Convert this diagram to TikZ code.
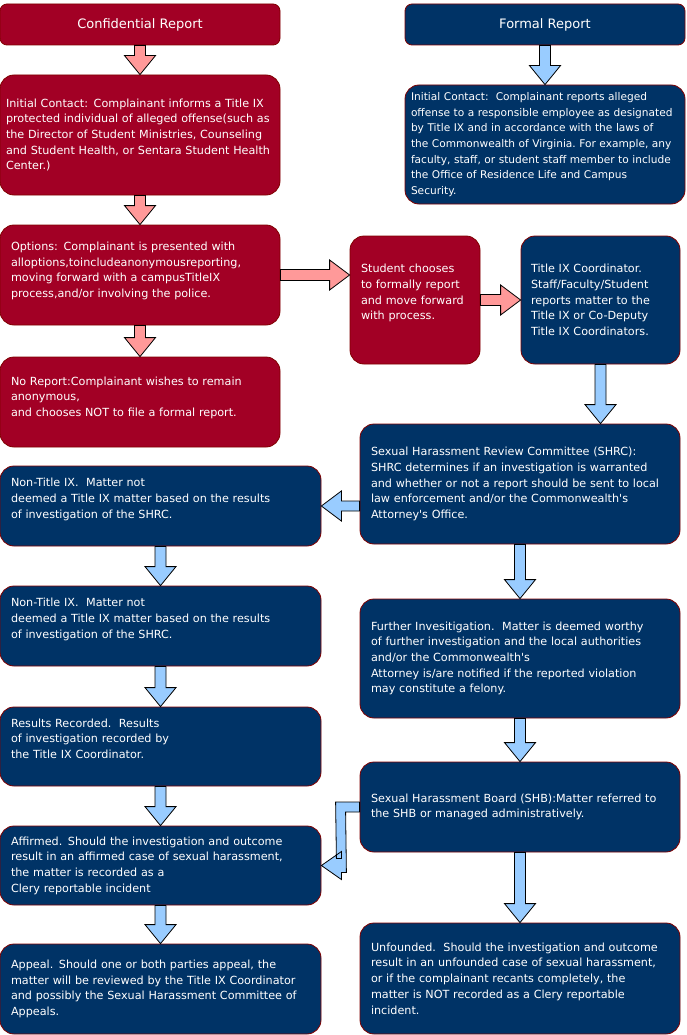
\documentclass[tikz,border=0pt]{standalone}
\usepackage{fontspec}
\setmainfont{DejaVu Sans}
\usetikzlibrary{calc}
\definecolor{crimson}{HTML}{A20025}
\definecolor{navy}{HTML}{003366}
\definecolor{boxline}{HTML}{800000}
\definecolor{pinkfill}{HTML}{FF9999}
\definecolor{skyfill}{HTML}{99CCFF}
\hyphenpenalty=10000
\exhyphenpenalty=10000
\begin{document}
\begin{tikzpicture}[x=1pt, y=-1pt,
    box/.style={draw=boxline, line width=0.8pt, rounded corners=14pt, text=white, align=left,
      inner xsep=11pt, inner ysep=2pt, font=\fontsize{11.2}{15.7}\selectfont},
    redbox/.style={box, fill=crimson},
    bluebox/.style={box, fill=navy},
    title/.style={align=center, rounded corners=7pt, font=\fontsize{13}{16}\selectfont},
    redarrow/.style={draw=black, fill=pinkfill, line width=0.8pt},
    bluearrow/.style={draw=black, fill=skyfill, line width=0.8pt},
    blockdown/.style={to path={
      ($(\tikztostart.south)+(-5.5,0)$) -- ($(\tikztostart.south)+(5.5,0)$)
      -- ($(\tikztostart.south |- \tikztotarget.north)+(5.5,-19)$)
      -- ($(\tikztostart.south |- \tikztotarget.north)+(15.5,-19)$)
      -- (\tikztostart.south |- \tikztotarget.north)
      -- ($(\tikztostart.south |- \tikztotarget.north)+(-15.5,-19)$)
      -- ($(\tikztostart.south |- \tikztotarget.north)+(-5.5,-19)$) -- cycle}},
    blockright/.style={to path={
      ($(\tikztostart.east)+(0,-5.5)$)
      -- ($(\tikztotarget.west |- \tikztostart.east)+(-20,-5.5)$)
      -- ($(\tikztotarget.west |- \tikztostart.east)+(-20,-15)$)
      -- (\tikztotarget.west |- \tikztostart.east)
      -- ($(\tikztotarget.west |- \tikztostart.east)+(-20,15)$)
      -- ($(\tikztotarget.west |- \tikztostart.east)+(-20,5.5)$)
      -- ($(\tikztostart.east)+(0,5.5)$) -- cycle}},
    blockleft/.style={to path={
      ($(\tikztostart.west |- \tikztotarget.east)+(0,-5)$)
      -- ($(\tikztotarget.east)+(20,-5)$)
      -- ($(\tikztotarget.east)+(20,-15)$)
      -- (\tikztotarget.east)
      -- ($(\tikztotarget.east)+(20,15)$)
      -- ($(\tikztotarget.east)+(20,5)$)
      -- ($(\tikztostart.west |- \tikztotarget.east)+(0,5)$) -- cycle}}]

    \useasboundingbox (0,0) rectangle (686,1035);

    % confidential side
    \node[redbox, title, minimum width=280pt, minimum height=41pt] (conf) at (140,24.5) {Confidential Report};
    \node[redbox, minimum width=280pt, minimum height=120pt, text width=268pt, inner xsep=6pt] (icconf) at (140,135)
      {Initial Contact: Complainant informs a Title IX\\ protected individual of alleged offense(such as\\ the Director of Student Ministries, Counseling\\ and Student Health, or Sentara Student Health\\ Center.)};
    \node[redbox, minimum width=280pt, minimum height=100pt, text width=258pt] (options) at (140,275)
      {Options: Complainant is presented with\\ alloptions,toincludeanonymousreporting,\\ moving forward with a campusTitleIX\\ process,and/or involving the police.\\[-5pt]\mbox{}};
    \node[redbox, minimum width=280pt, minimum height=90pt, text width=258pt] (noreport) at (140,402)
      {No Report:Complainant wishes to remain\\ anonymous,\\ and chooses NOT to file a formal report.\\[-5pt]\mbox{}};
    \node[redbox, minimum width=130pt, minimum height=128pt, text width=108pt] (student) at (415,300)
      {Student chooses\\ to formally report\\ and move forward\\ with process.\\\mbox{}};

    % formal side
    \node[bluebox, title, minimum width=280pt, minimum height=41pt] (formal) at (545,24.5) {Formal Report};
    \node[bluebox, minimum width=280pt, minimum height=119pt, text width=274pt, inner xsep=3pt,
      font=\fontsize{10.6}{15.7}\selectfont] (icformal) at (545,144.5)
      {\hspace*{3pt}Initial Contact:\ \ Complainant reports alleged\\ \hspace*{3pt}offense to a responsible employee as designated\\ \hspace*{3pt}by Title IX and in accordance with the laws of\\ \hspace*{3pt}the Commonwealth of Virginia.\ For example, any\\ \hspace*{3pt}faculty, staff, or student staff member to include\\ \hspace*{3pt}the Office of Residence Life and Campus\\ \hspace*{3pt}Security.};
    \node[bluebox, minimum width=159pt, minimum height=128pt, text width=139pt, inner xsep=10pt] (coord) at (600.5,300)
      {Title IX Coordinator.\\ Staff/Faculty/Student\\ reports matter to the\\ Title IX or Co-Deputy\\ Title IX Coordinators.};
    \node[bluebox, minimum width=320pt, minimum height=120pt, text width=298pt] (shrc) at (520,484)
      {Sexual Harassment Review Committee (SHRC):\\ SHRC determines if an investigation is warranted\\ and whether or not a report should be sent to local\\ law enforcement and/or the Commonwealth\textquotesingle s\\ Attorney\textquotesingle s Office.};
    \node[bluebox, minimum width=320pt, minimum height=119pt, text width=298pt] (further) at (520,658.5)
      {Further Invesitigation.\ \ Matter is deemed worthy\\ of further investigation and the local authorities\\ and/or the Commonwealth\textquotesingle s\\ Attorney is/are notified if the reported violation\\ may constitute a felony.};
    \node[bluebox, minimum width=320pt, minimum height=90pt, text width=298pt] (shb) at (520,807)
      {Sexual Harassment Board (SHB):Matter referred to\\ the SHB or managed administratively.};
    \node[bluebox, minimum width=320pt, minimum height=111pt, text width=298pt] (unfounded) at (520,978.5)
      {Unfounded.\ \ Should the investigation and outcome\\ result in an unfounded case of sexual harassment,\\ or if the complainant recants completely, the\\ matter is NOT recorded as a Clery reportable\\ incident.};

    % left column results
    \node[bluebox, minimum width=321pt, minimum height=80pt, text width=299pt] (nontitlea) at (160.5,506)
      {Non-Title IX.\ \ Matter not\\ deemed a Title IX matter based on the results\\ of investigation of the SHRC.\\\mbox{}};
    \node[bluebox, minimum width=321pt, minimum height=80pt, text width=299pt] (nontitleb) at (160.5,626)
      {Non-Title IX.\ \ Matter not\\ deemed a Title IX matter based on the results\\ of investigation of the SHRC.\\\mbox{}};
    \node[bluebox, minimum width=321pt, minimum height=79pt, text width=299pt] (results) at (160.5,746.5)
      {Results Recorded.\ \ Results\\ of investigation recorded by\\ the Title IX Coordinator.\\\mbox{}};
    \node[bluebox, minimum width=321pt, minimum height=79pt, text width=299pt] (affirmed) at (160.5,865.5)
      {Affirmed. Should the investigation and outcome\\ result in an affirmed case of sexual harassment,\\ the matter is recorded as a\\ Clery reportable incident};
    \node[bluebox, minimum width=321pt, minimum height=90pt, text width=299pt] (appeal) at (160.5,989)
      {Appeal. Should one or both parties appeal, the\\ matter will be reviewed by the Title IX Coordinator\\ and possibly the Sexual Harassment Committee of\\ Appeals.};

    % arrows
    \draw[redarrow] (conf) to[blockdown] (icconf);
    \draw[redarrow] (icconf) to[blockdown] (options);
    \draw[redarrow] (options) to[blockdown] (noreport);
    \draw[redarrow] (options) to[blockright] (student);
    \draw[redarrow] (student) to[blockright] (coord);
    \draw[bluearrow] (formal) to[blockdown] (icformal);
    \draw[bluearrow] (coord) to[blockdown] (shrc);
    \draw[bluearrow] (shrc) to[blockdown] (further);
    \draw[bluearrow] (further) to[blockdown] (shb);
    \draw[bluearrow] (shb) to[blockdown] (unfounded);
    \draw[bluearrow] (shrc) to[blockleft] (nontitlea);
    \draw[bluearrow] (nontitlea) to[blockdown] (nontitleb);
    \draw[bluearrow] (nontitleb) to[blockdown] (results);
    \draw[bluearrow] (results) to[blockdown] (affirmed);
    \draw[bluearrow] (affirmed) to[blockdown] (appeal);
    \draw[bluearrow] ($(shb.west)+(0,-5)$) -- ($(shb.west)+(-24,-5)$) -- ($(affirmed.east)+(15,-7)$)
      -- ($(affirmed.east)+(20,-7)$) -- ($(affirmed.east)+(20,-14)$) -- (affirmed.east)
      -- ($(affirmed.east)+(20,14)$) -- ($(affirmed.east)+(20,7)$) -- ($(affirmed.east)+(25,7)$)
      -- ($(shb.west)+(-14,5)$) -- ($(shb.west)+(0,5)$) -- cycle;

\end{tikzpicture}
\end{document}
